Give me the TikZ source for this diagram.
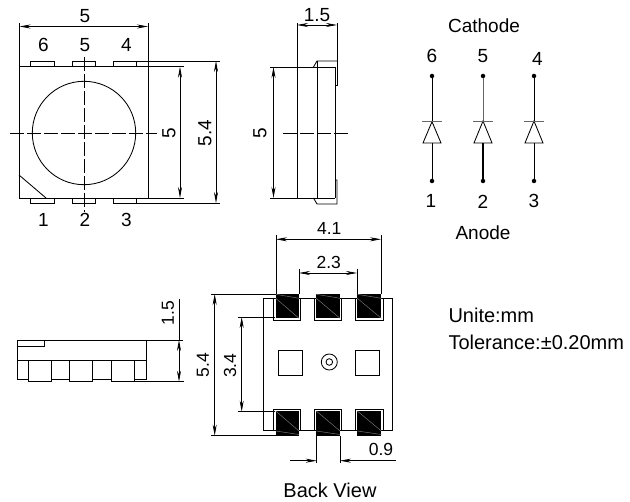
\documentclass[tikz,border=0pt]{standalone}
\usepackage{xcolor}
\usepackage{fontspec}
\setmainfont{Liberation Sans}
\usetikzlibrary{arrows.meta}

\begin{document}
\begin{tikzpicture}[x=1pt,y=-1pt]
	\tikzstyle{label} = [inner sep=0pt, font=\fontsize{19}{19}\selectfont]
	\tikzstyle{smalllabel} = [inner sep=0pt, font=\fontsize{17.5}{18}\selectfont]
	\tikzstyle{note} = [inner sep=0pt, font=\fontsize{20}{20}\selectfont]
	\tikzstyle{outline} = [draw, line width=0.85pt]
	\tikzstyle{center} = [draw, line width=0.7pt, dash pattern=on 14pt off 3pt]
	\tikzstyle{pad} = [fill=black, draw=none]
	\tikzstyle{sheen} = [draw=black!55, line width=0.5pt]
	\tikzstyle{pin} = [circle, fill=black, inner sep=0pt, minimum size=4.5pt]
	\tikzset{dim/.style = {draw, line width=0.7pt, {Stealth[length=11pt,width=4pt]}-{Stealth[length=11pt,width=4pt]}}}
	\tikzset{dimend/.style = {draw, line width=0.7pt, -{Stealth[length=11pt,width=4pt]}}}
	\tikzset{ext/.style = {draw, line width=0.7pt}}

	\useasboundingbox[fill=white] (0,0) rectangle (630,502);

	% top view
	\draw[outline] (19,66.7) rectangle (148,198);
	\draw[outline] (30.5,66.7) |- (54,61) -- (54,66.7);
	\draw[outline] (72,66.7) |- (95.5,61) -- (95.5,66.7);
	\draw[outline] (113,66.7) |- (136.5,61) -- (136.5,66.7);
	\draw[outline] (30.5,198) |- (54,203) -- (54,198);
	\draw[outline] (72,198) |- (95.5,203) -- (95.5,198);
	\draw[outline] (113,198) |- (136.5,203) -- (136.5,198);
	\draw[outline] (84,133) circle (51.7);
	\draw[outline] (19,175) -- (46,198);
	\draw[center] (10,133) -- (157,133);
	\draw[center] (84,57) -- (84,212);

	\draw[ext] (19.5,23) -- (19.5,66.7);
	\draw[ext] (148,23) -- (148,66.7);
	\draw[dim] (19.5,26.5) -- (148,26.5);
	\node[label](topwidth) at (85,16) {5};
	\node[label](pin6top) at (43.5,45) {6};
	\node[label](pin5top) at (85,45) {5};
	\node[label](pin4top) at (126.5,45) {4};
	\node[label](pin1top) at (43.5,220) {1};
	\node[label](pin2top) at (85,220) {2};
	\node[label](pin3top) at (126.5,220) {3};
	\draw[ext] (148,66.7) -- (184,66.7);
	\draw[ext] (148,198) -- (184,198);
	\draw[dim] (180,66.7) -- (180,198);
	\node[label, rotate=90](topbody) at (169,133) {5};
	\draw[ext] (137,61) -- (220,61);
	\draw[ext] (137,203) -- (220,203);
	\draw[dim] (216,61) -- (216,203);
	\node[label, rotate=90](toptotal) at (205,133) {5.4};

	% side view
	\draw[outline] (270,67) -- (335,67);
	\draw[outline] (270,198) -- (335,198);
	\draw[outline] (297,23) -- (297,198);
	\draw[outline] (317,61) -- (317,198);
	\draw[outline] (335,67) -- (335,198);
	\draw[outline] (313.5,67) -- (317,61) -- (337,61);
	\draw[outline] (337,23) -- (337,85) -- (335,85);
	\draw[outline] (313.5,198) -- (317,204) -- (337,204) -- (337,180) -- (335,180);
	\draw[center] (283,133) -- (351,133);
	\draw[dim] (297,25) -- (337,25);
	\node[label](sidedepth) at (317,15.5) {1.5};
	\draw[dim] (273.5,67) -- (273.5,198);
	\node[label, rotate=90](sidebody) at (260,133) {5};

	% schematic
	\node[label](cathode) at (484,26) {Cathode};
	\node[label](anode) at (483,233) {Anode};
	\node[label](num6) at (432,56) {6};
	\node[label](num5) at (483,56) {5};
	\node[label](num4) at (537.5,59) {4};
	\node[label](num1) at (431,201) {1};
	\node[label](num2) at (483,202) {2};
	\node[label](num3) at (534,201) {3};
	\node[pin](pin6) at (432,76) {};
	\node[pin](pin5) at (483,76) {};
	\node[pin](pin4) at (534,76) {};
	\node[pin](pin1) at (432,181) {};
	\node[pin](pin2) at (483,181) {};
	\node[pin](pin3) at (534,181) {};
	\coordinate(barleft) at (432,121.7);
	\coordinate(barmid) at (483,121);
	\coordinate(barright) at (534,121);
	\coordinate(baseleft) at (432,143);
	\coordinate(basemid) at (483,143);
	\coordinate(baseright) at (534,143);
	\draw[outline] (pin6) to (barleft);
	\draw[outline, draw=black!60] (pin5) to (barmid);
	\draw[outline] (pin4) to (barright);
	\draw[outline] (pin1) to (baseleft);
	\draw[outline, line width=1.5pt] (pin2) to (basemid);
	\draw[outline] (pin3) to (baseright);
	\draw[outline] (barleft) -- (441,143) -- (423,143) -- cycle;
	\draw[outline] (barmid) -- (492,143) -- (474,143) -- cycle;
	\draw[outline] (barright) -- (543,143) -- (525,143) -- cycle;
	\draw[outline, draw=black!60] (422,121.7) -- (442,121.7);
	\draw[outline, draw=black!60] (473,121) -- (493,121);
	\draw[outline, draw=black!60] (524,121) -- (544,121);

	% side view, leads down
	\draw[outline] (17,340) rectangle (146,360.7);
	\draw[outline] (17,346) -- (44.7,346) -- (44.7,340);
	\draw[outline] (17,360.7) -- (17,379) -- (28.7,379);
	\draw[outline] (146,360.7) -- (146,379) -- (134,379);
	\draw[outline] (51.7,379) -- (69.7,379);
	\draw[outline] (92.7,379) -- (111,379);
	\draw[outline] (28.7,360.7) rectangle (51.7,381.7);
	\draw[outline] (69.7,360.7) rectangle (92.7,381.7);
	\draw[outline] (111,360.7) rectangle (134,381.7);
	\draw[ext] (146,340) -- (183,340);
	\draw[ext] (134,381.7) -- (184,381.7);
	\draw[ext] (179,299) -- (179,340);
	\draw[dim] (179,340) -- (179,381.7);
	\node[smalllabel, rotate=90](leadheight) at (168,313) {1.5};

	% back view
	\draw[outline] (263.7,298) rectangle (392,430);
	\draw[outline] (273,298) |- (300,320) -- (300,298);
	\draw[outline] (314.3,298) |- (341.7,320) -- (341.7,298);
	\draw[outline] (355.7,298) |- (383,320) -- (383,298);
	\draw[outline] (273,430) |- (300,409.3) -- (300,430);
	\draw[outline] (314.3,430) |- (341.7,409.3) -- (341.7,430);
	\draw[outline] (355.7,430) |- (383,409.3) -- (383,430);
	\fill[pad] (275.7,293.7) rectangle (299,318.3);
	\fill[pad] (316.3,293.7) rectangle (340,318.3);
	\fill[pad] (357.3,293.7) rectangle (381.3,318.3);
	\fill[pad] (275.7,411) rectangle (299,435.7);
	\fill[pad] (316.3,411) rectangle (340,435.7);
	\fill[pad] (357.3,411) rectangle (381.3,435.7);
	\draw[sheen] (275.7,298.3) -- (299,318.3);
	\draw[sheen] (316.3,298.3) -- (340,318.3);
	\draw[sheen] (357.3,298.3) -- (381.3,318.3);
	\draw[sheen] (275.7,294.3) -- (299,298.3);
	\draw[sheen] (316.3,294.3) -- (340,298.3);
	\draw[sheen] (357.3,294.3) -- (381.3,298.3);
	\draw[sheen] (275.7,411) -- (299,431);
	\draw[sheen] (316.3,411) -- (340,431);
	\draw[sheen] (357.3,411) -- (381.3,431);
	\draw[sheen] (275.7,431) -- (299,434.5);
	\draw[sheen] (316.3,431) -- (340,434.5);
	\draw[sheen] (357.3,431) -- (381.3,434.5);
	\draw[outline] (278.3,350.3) rectangle (302,375);
	\draw[outline] (355.3,350.3) rectangle (379,375);
	\draw[outline] (329.3,362) circle (8);
	\draw[outline] (329.3,362) circle (3.3);

	\draw[ext] (276,235) -- (276,294);
	\draw[ext] (381,235) -- (381,294);
	\draw[dim] (276,239.3) -- (381,239.3);
	\node[smalllabel](padspan) at (329.3,228) {4.1};
	\draw[ext] (299,269) -- (299,294);
	\draw[ext] (357,269) -- (357,294);
	\draw[dim] (299,273) -- (357,273);
	\node[smalllabel](padgap) at (328.7,262) {2.3};
	\draw[ext] (211,294) -- (276,294);
	\draw[ext] (211,435.7) -- (276,435.7);
	\draw[dim] (214.7,294) -- (214.7,435.7);
	\node[smalllabel, rotate=90](backtotal) at (203,365) {5.4};
	\draw[ext] (237.7,317) -- (275,317);
	\draw[ext] (237.7,411.7) -- (275,411.7);
	\draw[dim] (241.7,317) -- (241.7,411.7);
	\node[smalllabel, rotate=90](backpitch) at (230,365.7) {3.4};
	\draw[ext] (316.7,436) -- (316.7,463);
	\draw[ext] (340,436) -- (340,463);
	\draw[dimend] (290,460.7) -- (316.7,460.7);
	\draw[dimend] (396,460.7) -- (340,460.7);
	\node[smalllabel](padwidth) at (381,449) {0.9};
	\node[note](backview) at (330,490) {Back View};

	% notes
	\node[note, anchor=west](unit) at (448.3,315) {Unite:mm};
	\node[note, anchor=west](tolerance) at (448.3,342.7) {Tolerance:±0.20mm};
\end{tikzpicture}
\end{document}
